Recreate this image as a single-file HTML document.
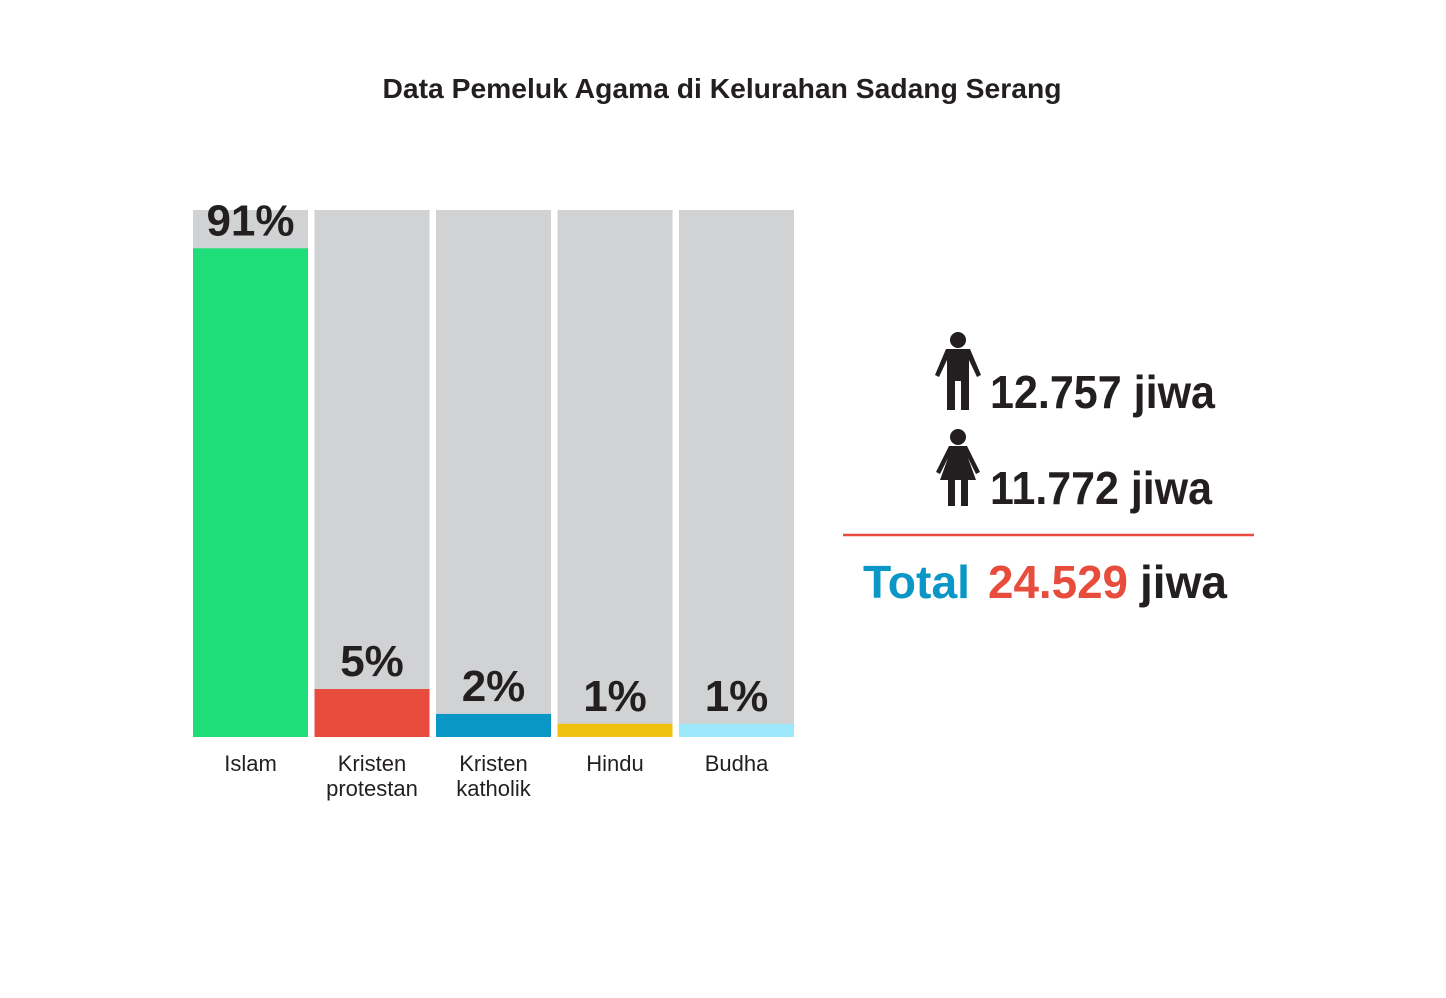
<!DOCTYPE html>
<html><head><meta charset="utf-8"><style>
html,body{margin:0;padding:0;background:#fff;}
svg{display:block;font-family:"Liberation Sans",sans-serif;}
</style></head><body>
<svg id="chart" width="1446" height="998" viewBox="0 0 1446 998">
<text x="722" y="98" text-anchor="middle" font-size="28" font-weight="bold" fill="#231f20" textLength="679" lengthAdjust="spacingAndGlyphs">Data Pemeluk Agama di Kelurahan Sadang Serang</text>
<g id="bars"></g>
<g>
  <g fill="#231f20">
    <circle cx="958" cy="340" r="8"/>
    <path d="M946 349 H970 L981 375 L977 377 L969 360 V410 H961 V381 H955 V410 H947 V360 L939 377 L935 375 Z"/>
  </g>
  <text x="990" y="408" font-size="46" font-weight="bold" fill="#231f20" textLength="225" lengthAdjust="spacingAndGlyphs">12.757 jiwa</text>
  <g fill="#231f20">
    <circle cx="958" cy="437" r="8"/>
    <path d="M949 446 H967 L980 472 L976 474 L968 458 L976 480 H968 V506 H961 V480 H955 V506 H948 V480 H940 L948 458 L940 474 L936 472 Z"/>
  </g>
  <text x="990" y="504" font-size="46" font-weight="bold" fill="#231f20" textLength="222" lengthAdjust="spacingAndGlyphs">11.772 jiwa</text>
  <line x1="843" y1="535" x2="1254" y2="535" stroke="#e84c3d" stroke-width="2.5"/>
  <text x="863" y="598" font-size="46" font-weight="bold" fill="#0a97c6" textLength="107" lengthAdjust="spacingAndGlyphs">Total</text>
  <text x="988" y="598" font-size="46" font-weight="bold" fill="#e84c3d" textLength="140" lengthAdjust="spacingAndGlyphs">24.529</text>
  <text x="1140" y="598" font-size="46" font-weight="bold" fill="#231f20" textLength="87" lengthAdjust="spacingAndGlyphs">jiwa</text>
</g>
</svg>
<script>
const categories = [["Islam"], ["Kristen","protestan"], ["Kristen","katholik"], ["Hindu"], ["Budha"]];
const percentValues = [91, 5, 2, 1, 1];
const percentLabels = ["91%", "5%", "2%", "1%", "1%"];
const barColors = ["#1fdd78", "#e84c3d", "#0a97c6", "#f0c20f", "#9de9fb"];

const NS = "http://www.w3.org/2000/svg";
const g = document.getElementById("bars");
const x0 = 193, step = 121.5, bw = 115, yTop = 210, yBot = 737, H = yBot - yTop;
function xPos(i){ return x0 + i*step; }
function hScale(v){ return H * Math.pow(v/100, 0.8); }
function mk(tag, attrs){ const e = document.createElementNS(NS, tag); for (const k in attrs) e.setAttribute(k, attrs[k]); return e; }

percentValues.forEach((v, i) => {
  const x = xPos(i);
  const bg = mk("rect", {x: x, y: yTop, width: bw, height: H, fill: "#d1d2d4"});
  
  
  g.appendChild(bg);
  const h = hScale(v);
  const fill = mk("rect", {x: x, y: yBot - h, width: bw, height: h, fill: barColors[i]});
  
  
  g.appendChild(fill);
  const lbl = mk("text", {x: x + bw/2, y: yBot - h - 13, "text-anchor": "middle", "font-size": "44", "font-weight": "bold", fill: "#231f20"});
  lbl.textContent = percentLabels[i];
  
  
  g.appendChild(lbl);
  categories[i].forEach((line, j) => {
    const t = mk("text", {x: x + bw/2, y: 771 + j*25, "text-anchor": "middle", "font-size": "22", fill: "#231f20"});
    t.textContent = line;
    
    
    g.appendChild(t);
  });
});
</script>
</body></html>
